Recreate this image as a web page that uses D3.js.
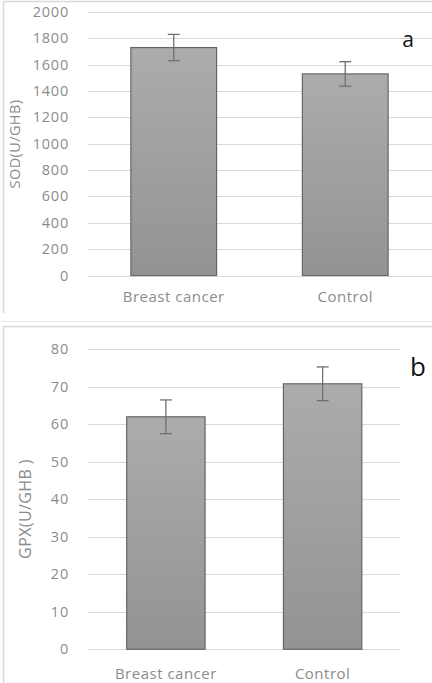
<!DOCTYPE html>
<html>
<head>
<meta charset="utf-8">
<script src="https://cdn.jsdelivr.net/npm/d3@7"></script>
<style>
  html, body { margin: 0; padding: 0; background: #fff; }
  svg { display: block; }
  text { font-family: 'Open Sans', sans-serif; }
</style>
</head>
<body>
<svg id="chart" width="432" height="683"></svg>
<script>
const categories = ['Breast cancer', 'Control']

const sodValues = [1730, 1530]
const sodErrors = [100, 93]
const sodTicks = [0, 200, 400, 600, 800, 1000, 1200, 1400, 1600, 1800, 2000]

const gpxValues = [62, 70.8]
const gpxErrors = [4.5, 4.5]
const gpxTicks = [0, 10, 20, 30, 40, 50, 60, 70, 80]

const svg = d3.select('#chart')

const defs = svg.append('defs')
const grad = defs.append('linearGradient')
  .attr('id', 'barFill')
  .attr('x1', 0).attr('y1', 0).attr('x2', 0).attr('y2', 1)
grad.append('stop').attr('offset', '0%').attr('stop-color', '#acacac')
grad.append('stop').attr('offset', '100%').attr('stop-color', '#939393')

// panel frames
svg.append('path')
  .attr('d', 'M3.5,313 V1.5 H432')
  .attr('fill', 'none').attr('stroke', '#d9d9d9').attr('stroke-width', 1.5)
svg.append('path')
  .attr('d', 'M0,321.5 H432')
  .attr('fill', 'none').attr('stroke', '#e6e6e6').attr('stroke-width', 1)
svg.append('path')
  .attr('d', 'M3.5,683 V326.5 H432')
  .attr('fill', 'none').attr('stroke', '#d9d9d9').attr('stroke-width', 1.5)

function drawPanel (opts) {
  const g = svg.append('g')

  const x = d3.scaleBand()
    .domain(categories)
    .range([opts.left, opts.right])
    .paddingInner(0.5)
    .paddingOuter(0.25)

  const y = d3.scaleLinear()
    .domain([0, opts.max])
    .range([opts.bottom, opts.top])

  // gridlines
  g.append('g')
    .selectAll('line')
    .data(opts.ticks)
    .enter()
    .append('line')
    .attr('x1', opts.left)
    .attr('x2', opts.gridRight)
    .attr('y1', d => Math.round(y(d)) + 0.5)
    .attr('y2', d => Math.round(y(d)) + 0.5)
    .attr('stroke', '#d9d9d9')
    .attr('stroke-width', 1)

  // y tick labels
  g.append('g')
    .selectAll('text')
    .data(opts.ticks)
    .enter()
    .append('text')
    .attr('x', 69)
    .attr('y', d => y(d) + 5)
    .attr('text-anchor', 'end')
    .style('font-size', '14.5px')
    .style('letter-spacing', '0.8px')
    .style('fill', '#8c8c8c')
    .text(d => d)

  // bars
  g.append('g')
    .selectAll('rect')
    .data(opts.values)
    .enter()
    .append('rect')
    .attr('x', (d, i) => x(categories[i]))
    .attr('y', d => y(d))
    .attr('width', x.bandwidth())
    .attr('height', d => y(0) - y(d))
    .attr('fill', 'url(#barFill)')
    .attr('stroke', '#666')
    .attr('stroke-width', 1.2)

  // error bars
  const eb = g.append('g')
    .selectAll('g')
    .data(opts.values)
    .enter()
    .append('g')
    .attr('stroke', '#707070')
    .attr('stroke-width', 1.3)
  const cx = (i) => x(categories[i]) + x.bandwidth() / 2
  eb.append('line')
    .attr('x1', (d, i) => cx(i)).attr('x2', (d, i) => cx(i))
    .attr('y1', (d, i) => y(d + opts.errors[i]))
    .attr('y2', (d, i) => y(d - opts.errors[i]))
  eb.append('line')
    .attr('x1', (d, i) => cx(i) - 6).attr('x2', (d, i) => cx(i) + 6)
    .attr('y1', (d, i) => y(d + opts.errors[i]))
    .attr('y2', (d, i) => y(d + opts.errors[i]))
  eb.append('line')
    .attr('x1', (d, i) => cx(i) - 6).attr('x2', (d, i) => cx(i) + 6)
    .attr('y1', (d, i) => y(d - opts.errors[i]))
    .attr('y2', (d, i) => y(d - opts.errors[i]))

  // category labels
  g.append('g')
    .selectAll('text')
    .data(categories)
    .enter()
    .append('text')
    .attr('x', d => x(d) + x.bandwidth() / 2)
    .attr('y', opts.labelY)
    .attr('text-anchor', 'middle')
    .style('font-size', '15px')
    .style('letter-spacing', '0.5px')
    .style('fill', '#8c8c8c')
    .text(d => d)

  // axis title
  g.append('text')
    .attr('transform', `translate(${opts.titleX}, ${opts.titleY}) rotate(-90)`)
    .attr('text-anchor', 'middle')
    .style('font-size', opts.titleSize)
    .style('letter-spacing', '0.4px')
    .style('fill', '#8c8c8c')
    .text(opts.title)

  // panel letter
  g.append('text')
    .attr('x', opts.letterX)
    .attr('y', opts.letterY)
    .attr('text-anchor', 'middle')
    .style('font-size', opts.letterSize)
    .style('fill', '#111')
    .text(opts.letter)
}

drawPanel({
  values: sodValues,
  errors: sodErrors,
  ticks: sodTicks,
  max: 2000,
  left: 88,
  right: 431,
  gridRight: 432,
  top: 12,
  bottom: 275.5,
  labelY: 302,
  title: 'SOD(U/GHB)',
  titleX: 20,
  titleY: 144,
  titleSize: '14.5px',
  letter: 'a',
  letterX: 408,
  letterY: 47,
  letterSize: '21px'
})

drawPanel({
  values: gpxValues,
  errors: gpxErrors,
  ticks: gpxTicks,
  max: 80,
  left: 87.5,
  right: 401,
  gridRight: 400,
  top: 349.3,
  bottom: 649.3,
  labelY: 679,
  title: 'GPX(U/GHB )',
  titleX: 30.5,
  titleY: 509,
  titleSize: '16px',
  letter: 'b',
  letterX: 418,
  letterY: 376,
  letterSize: '26px'
})
</script>
</body>
</html>
